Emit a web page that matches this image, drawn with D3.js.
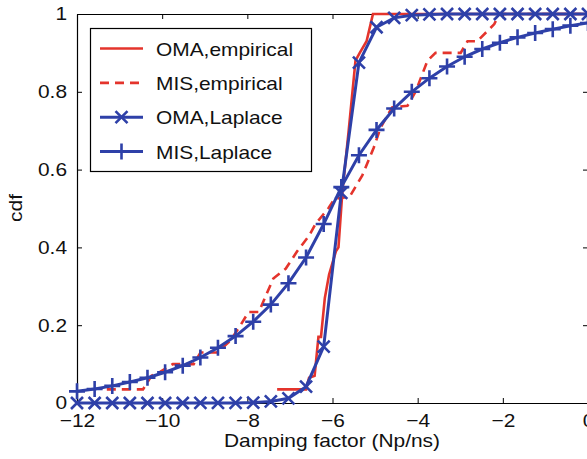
<!DOCTYPE html>
<html>
<head>
<meta charset="utf-8">
<script src="https://cdn.jsdelivr.net/npm/d3@7"></script>
<style>
  body { margin: 0; background: #fff; }
  text { font-family: "Liberation Sans", Arial, Helvetica, sans-serif; }
</style>
</head>
<body>
<svg id="chart" width="587" height="459"></svg>
<script>
// x positions of the Laplace curves (one marker per point)
const lapX = [-12, -11.586, -11.172, -10.759, -10.345, -9.931, -9.517, -9.103, -8.690, -8.276,
  -7.862, -7.448, -7.034, -6.621, -6.207, -5.793, -5.379, -4.966, -4.552, -4.138,
  -3.724, -3.310, -2.897, -2.483, -2.069, -1.655, -1.241, -0.828, -0.414, 0];
const omaLaplace = [0, 0, 0, 0, 0, 0, 0.0001, 0.0002, 0.0003, 0.0003,
  0.001, 0.004, 0.012, 0.042, 0.145, 0.54, 0.875, 0.966, 0.99, 0.997,
  0.999, 1, 1, 1, 1, 1, 1, 1, 1, 1];
const misLaplace = [0.030, 0.036, 0.044, 0.054, 0.065, 0.079, 0.096, 0.117, 0.142, 0.172,
  0.209, 0.253, 0.308, 0.374, 0.46, 0.555, 0.637, 0.702, 0.757, 0.800,
  0.835, 0.865, 0.890, 0.910, 0.926, 0.940, 0.951, 0.961, 0.970, 0.977];

// empirical cdfs
const omaEmpX = [-7.30, -6.62, -6.55, -6.42, -6.33, -6.27, -6.18, -6.08, -5.92, -5.86, -5.77, -5.62, -5.46, -5.36, -5.20, -5.05, 0];
const omaEmpY = [0.035, 0.035, 0.065, 0.07, 0.17, 0.17, 0.27, 0.33, 0.39, 0.40, 0.54, 0.70, 0.88, 0.90, 0.93, 1.0, 1.0];
const misEmpX = [-11.30, -10.45, -10.25, -10.05, -9.75, -9.26, -9.10, -8.71, -8.40, -8.16, -7.97, -7.73, -7.55, -7.39, -7.10, -6.83,
  -6.55, -6.40, -6.25, -6.10, -5.95, -5.60, -5.30, -5.03, -4.87, -4.60, -4.24, -4.05, -3.77, -3.58, -2.99, -2.83, -2.60, -2.20, -2.09, 0];
const misEmpY = [0.035, 0.035, 0.07, 0.08, 0.10, 0.10, 0.13, 0.13, 0.16, 0.20, 0.234, 0.234, 0.28, 0.32, 0.345, 0.39,
  0.43, 0.46, 0.48, 0.50, 0.525, 0.53, 0.585, 0.657, 0.708, 0.76, 0.764, 0.80, 0.88, 0.90, 0.90, 0.93, 0.93, 0.974, 1.0, 1.0];

const xTicks = [-12, -10, -8, -6, -4, -2, 0];
const yTicks = [0, 0.2, 0.4, 0.6, 0.8, 1];
const legendLabels = ['OMA,empirical', 'MIS,empirical', 'OMA,Laplace', 'MIS,Laplace'];

const RED = '#e4342c';
const BLUE = '#2e40a8';
const STRETCH = 1.13; // glyphs in the figure are wider than normal

const svg = d3.select('#chart');
const margin = { left: 77, top: 14, right: 588, bottom: 403 };
const x = d3.scaleLinear().domain([-12, 0]).range([margin.left, margin.right]);
const y = d3.scaleLinear().domain([0, 1]).range([margin.bottom, margin.top]);

const fmtY = d => (d === 0 || d === 1) ? String(d) : d.toFixed(1);

// axes (MATLAB-style inner ticks, full box)
const axes = svg.append('g').attr('class', 'axes');
axes.append('g').attr('transform', `translate(0,${margin.bottom})`)
  .call(d3.axisBottom(x).tickValues(xTicks).tickSizeInner(-5).tickSizeOuter(0).tickPadding(11));
axes.append('g').attr('transform', `translate(0,${margin.top})`)
  .call(d3.axisTop(x).tickValues(xTicks).tickSizeInner(-5).tickSizeOuter(0).tickFormat(''));
axes.append('g').attr('transform', `translate(${margin.left},0)`)
  .call(d3.axisLeft(y).tickValues(yTicks).tickSizeInner(-5).tickSizeOuter(0).tickPadding(10).tickFormat(fmtY));
axes.append('g').attr('transform', `translate(${margin.right},0)`)
  .call(d3.axisRight(y).tickValues(yTicks).tickSizeInner(-5).tickSizeOuter(0).tickFormat(''));
axes.selectAll('path.domain').attr('stroke', '#000').attr('stroke-width', 1.2);
axes.selectAll('.tick line').attr('stroke', '#000').attr('stroke-width', 1);
axes.selectAll('.tick text').attr('fill', '#111').style('font-size', '18.5px')
  .style('font-family', '"Liberation Sans", Arial, sans-serif');

// axis titles
svg.append('text').attr('class', 'stretch')
  .attr('x', 332).attr('y', 447).attr('text-anchor', 'middle')
  .style('font-size', '18.5px').attr('fill', '#111')
  .text('Damping factor (Np/ns)');
svg.append('text').attr('class', 'stretch')
  .attr('transform', 'translate(22,208) rotate(-90)').attr('text-anchor', 'middle')
  .style('font-size', '18.5px').attr('fill', '#111')
  .text('cdf');

// curves
const plot = svg.append('g');
const line = d3.line().x(d => x(d[0])).y(d => y(d[1]));

plot.append('path').datum(d3.zip(omaEmpX, omaEmpY))
  .attr('d', line).attr('fill', 'none').attr('stroke', RED).attr('stroke-width', 2.6);
plot.append('path').datum(d3.zip(misEmpX, misEmpY))
  .attr('d', line).attr('fill', 'none').attr('stroke', RED).attr('stroke-width', 2.6)
  .attr('stroke-dasharray', '9,6');

const omaPts = d3.zip(lapX, omaLaplace);
const misPts = d3.zip(lapX, misLaplace);

function crossMarker(g, cx, cy, r) {
  g.append('path').attr('d', `M${cx - r},${cy - r}L${cx + r},${cy + r}M${cx - r},${cy + r}L${cx + r},${cy - r}`);
}
function plusMarker(g, cx, cy, r) {
  g.append('path').attr('d', `M${cx - r},${cy}L${cx + r},${cy}M${cx},${cy - r}L${cx},${cy + r}`);
}

plot.append('path').datum(omaPts)
  .attr('d', line).attr('fill', 'none').attr('stroke', BLUE).attr('stroke-width', 3);
const omaMarks = plot.append('g').attr('stroke', BLUE).attr('stroke-width', 2.6).attr('fill', 'none');
omaPts.forEach(d => crossMarker(omaMarks, x(d[0]), y(d[1]), 6));

plot.append('path').datum(misPts)
  .attr('d', line).attr('fill', 'none').attr('stroke', BLUE).attr('stroke-width', 3);
const misMarks = plot.append('g').attr('stroke', BLUE).attr('stroke-width', 2.6).attr('fill', 'none');
misPts.forEach(d => plusMarker(misMarks, x(d[0]), y(d[1]), 8));

// legend
const legend = svg.append('g');
legend.append('rect').attr('x', 90.5).attr('y', 28.5).attr('width', 221).attr('height', 143)
  .attr('fill', '#fff').attr('stroke', '#000').attr('stroke-width', 1.2);
const rowY = d3.scalePoint().domain(legendLabels).range([48.5, 151.5]);
legendLabels.forEach((lab, i) => {
  const ly = rowY(lab);
  const g = legend.append('g');
  const isRed = i < 2;
  g.append('line').attr('x1', 100).attr('x2', 143).attr('y1', ly).attr('y2', ly)
    .attr('stroke', isRed ? RED : BLUE).attr('stroke-width', isRed ? 2.6 : 3)
    .attr('stroke-dasharray', i === 1 ? '9,6' : null);
  const mg = g.append('g').attr('stroke', BLUE).attr('stroke-width', 2.6).attr('fill', 'none');
  if (i === 2) crossMarker(mg, 121.5, ly, 6);
  if (i === 3) plusMarker(mg, 121.5, ly, 8);
  g.append('text').attr('class', 'stretch').attr('x', 156).attr('y', ly + 7)
    .style('font-size', '18.5px').attr('fill', '#111').text(lab);
});

// widen the texts to match the figure's proportions
svg.selectAll('text.stretch, .axes .tick text').each(function () {
  const w = this.getComputedTextLength();
  d3.select(this).attr('textLength', w * STRETCH).attr('lengthAdjust', 'spacingAndGlyphs');
});
</script>
</body>
</html>
